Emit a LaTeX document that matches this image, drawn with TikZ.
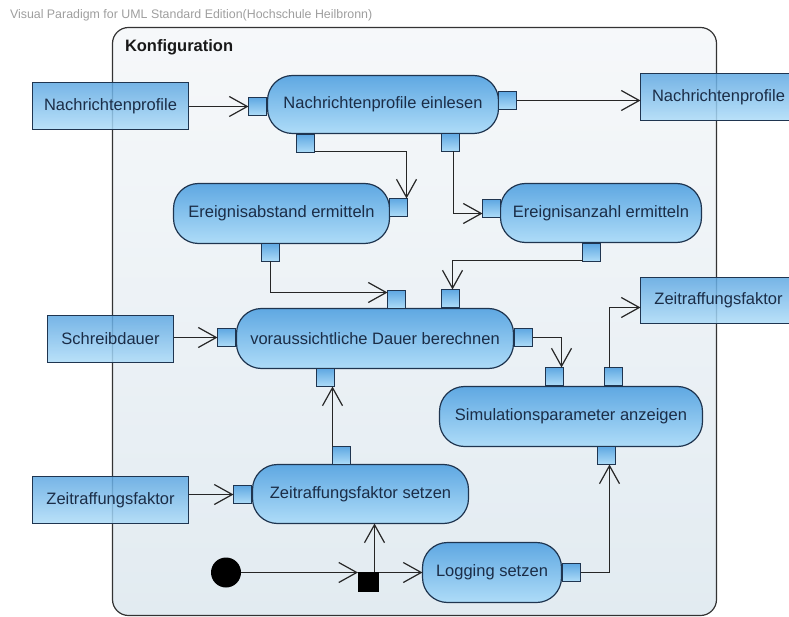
\documentclass[tikz,border=0pt]{standalone}
\usepackage{fontspec}
\setmainfont{Liberation Sans}
\usetikzlibrary{arrows.meta}

\definecolor{edgeblue}{HTML}{1F3550}
\definecolor{boxtop}{HTML}{5FA8E2}
\definecolor{boxbot}{HTML}{AEDCF8}
\definecolor{labeltext}{HTML}{1B2D47}
\definecolor{flowline}{HTML}{262626}
\definecolor{frametop}{HTML}{F6F8FA}
\definecolor{framebot}{HTML}{E2EBF1}

\newcommand{\lblfont}{\fontsize{16.5}{19}\selectfont}

\begin{document}
\begin{tikzpicture}[x=1pt,y=-1pt,
  every node/.style={outer sep=0pt},
  objbox/.style={draw=edgeblue, line width=1.2pt, top color=boxtop, bottom color=boxbot,
    fill opacity=0.85, text opacity=1, minimum height=47pt, inner sep=0pt,
    font=\lblfont, text=labeltext},
  action/.style={draw=edgeblue, line width=1.2pt, top color=boxtop, bottom color=boxbot,
    rounded corners=25pt, minimum height=59pt, inner sep=0pt,
    font=\lblfont, text=labeltext},
  pin/.style={draw=edgeblue, line width=1.1pt, top color=boxtop, bottom color=boxbot,
    minimum width=18pt, minimum height=18pt, inner sep=0pt},
  flow/.style={draw=flowline, line width=1.2pt,
    -{Straight Barb[length=18pt,width=20pt,line width=1.2pt]}},
]
\useasboundingbox (0,0) rectangle (789,617);

% tool header
\node[anchor=west, inner sep=0pt, text=black!38, font=\fontsize{12.4}{14}\selectfont]
  (header) at (10,15) {Visual Paradigm for UML Standard Edition(Hochschule Heilbronn)};

% activity frame
\shade[top color=frametop, bottom color=framebot, rounded corners=16pt]
  (112.5,27.5) rectangle (716.5,615.5);
\draw[draw=black!80, line width=1.2pt, rounded corners=16pt]
  (112.5,27.5) rectangle (716.5,615.5);
\node[anchor=west, inner sep=0pt, font=\fontsize{16.5}{19}\selectfont\bfseries, text=black!90]
  (title) at (125,47) {Konfiguration};

% object nodes
\node[objbox, minimum width=156pt] (nin) at (110.5,106) {Nachrichtenprofile};
\node[objbox, minimum width=156pt] (nout) at (718.5,97) {Nachrichtenprofile};
\node[objbox, minimum width=126pt] (schreib) at (110.5,339) {Schreibdauer};
\node[objbox, minimum width=156pt] (zin) at (110.5,500) {Zeitraffungsfaktor};
\node[objbox, minimum width=156pt, minimum height=46pt] (zout) at (718.5,300.5) {Zeitraffungsfaktor};

% actions
\node[action, minimum width=231pt, minimum height=58pt] (a1) at (383,104.5) {Nachrichtenprofile einlesen};
\node[action, minimum width=216pt, minimum height=60pt] (a2) at (281.5,213.5) {Ereignisabstand ermitteln};
\node[action, minimum width=201pt] (a3) at (601,213) {Ereignisanzahl ermitteln};
\node[action, minimum width=277pt, minimum height=60pt] (a4) at (375,338.5) {voraussichtliche Dauer berechnen};
\node[action, minimum width=263pt, minimum height=60pt] (a5) at (571,416.5) {Simulationsparameter anzeigen};
\node[action, minimum width=216pt] (a6) at (360.5,494) {Zeitraffungsfaktor setzen};
\node[action, minimum width=139pt, minimum height=60pt] (a7) at (492,572.5) {Logging setzen};

% pins
\node[pin] (p1in) at (257.5,106.5) {};
\node[pin] (p1out) at (507.5,100.5) {};
\node[pin] (p1b1) at (305.5,143.5) {};
\node[pin] (p1b2) at (450.5,142.5) {};
\node[pin] (p2r) at (398.5,207.5) {};
\node[pin] (p2b) at (270.5,252.5) {};
\node[pin] (p3l) at (491.5,208.5) {};
\node[pin] (p3b) at (591.5,252.5) {};
\node[pin] (p4t1) at (396.5,299.5) {};
\node[pin] (p4t2) at (450.5,298.5) {};
\node[pin] (p4l) at (226.5,337.5) {};
\node[pin] (p4r) at (523.5,337.5) {};
\node[pin] (p4b) at (325.5,377.5) {};
\node[pin] (p5t1) at (554.5,376.5) {};
\node[pin] (p5t2) at (613.5,376.5) {};
\node[pin] (p5b) at (606.5,455.5) {};
\node[pin] (p6l) at (242.5,494.5) {};
\node[pin] (p6t) at (341.5,455.5) {};
\node[pin] (p7r) at (571.5,572.5) {};

% control nodes
\node[circle, fill=black, minimum size=30pt, inner sep=0pt] (init) at (226,572.5) {};
\node[rectangle, fill=black, minimum width=21pt, minimum height=20pt, inner sep=0pt] (fork) at (368.5,582) {};

% object and control flows
\draw[flow] (p1in.west -| nin.east) -- (p1in.west);
\draw[flow] (p1out.east) -- (p1out.east -| nout.west);
\draw[flow] ([yshift=1pt]p1b1.south east) -| ([xshift=-1pt]p2r.north east);
\draw[flow] ([xshift=3pt]p1b2.south) |- ([yshift=4pt]p3l.south west);
\draw[flow] (p2b.south) |- ([yshift=-2pt]p4t1.north west);
\draw[flow] ([yshift=1pt]p3b.south west) -| ([xshift=2pt]p4t2.north);
\draw[flow] (schreib.east |- p4l.west) -- (p4l.west);
\draw[flow] (p4r.east) -| ([xshift=-2pt]p5t1.north east);
\draw[flow] ([xshift=-4pt]p5t2.north) |- ([yshift=-7pt]zout.west);
\draw[flow] (p6t.north west) -- (p6t.north west |- p4b.south);
\draw[flow] (zin.east |- p6l.west) -- (p6l.west);
\draw[flow] (init.east) -- (fork.west |- init.east);
\draw[flow] ([xshift=6pt]fork.north) -- ([xshift=6pt]fork.north |- a6.south);
\draw[flow] (fork.east |- a7.west) -- (a7.west);
\draw[flow] (p7r.east) -| ([xshift=3pt]p5b.south);
\end{tikzpicture}
\end{document}
